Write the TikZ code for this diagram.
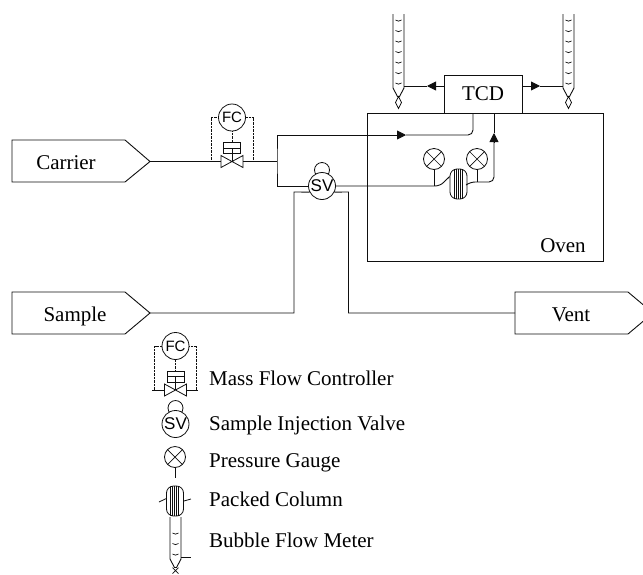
\documentclass[tikz,border=0pt]{standalone}
\usepackage{fontspec}
\setmainfont{Liberation Serif}
\setsansfont{Liberation Sans}
\usetikzlibrary{arrows.meta,positioning,calc,shapes.geometric}
\definecolor{pipecolor}{RGB}{15,15,15}
\tikzset{
  pipe/.style={draw=pipecolor,line width=0.9pt,rounded corners=5pt},
  flowtip/.style={-{Triangle[length=9pt,width=9pt]}},
  stream/.style={draw=pipecolor,line width=0.9pt},
  streamlabel/.style={font=\fontsize{21}{24}\selectfont,inner sep=0pt,text height=14pt,text depth=0pt},
  legendlabel/.style={streamlabel,anchor=west},
  instrument/.style={circle,draw=pipecolor,line width=0.8pt,inner sep=0pt,fill=white,font=\sffamily},
  gauge/.style={instrument,minimum size=21pt,path picture={
      \draw[pipecolor,line width=0.7pt] (path picture bounding box.north west) -- (path picture bounding box.south east)
        (path picture bounding box.north east) -- (path picture bounding box.south west);}},
  columnbody/.style={draw=pipecolor,line width=0.8pt,fill=white,inner sep=0pt,minimum width=17pt,minimum height=30pt,rounded corners=7pt,path picture={
      \foreach \k in {-4.5,-2.5,-0.5,1.5,3.5}
        \draw[pipecolor,line width=0.6pt] ([xshift=\k pt]path picture bounding box.north) -- ([xshift=\k pt]path picture bounding box.south);}},
  pics/flowctl/.style={code={
      \node[instrument,minimum size=27pt,font=\sffamily\fontsize{15}{15}\selectfont] (-fc) at (0,-44) {FC};
      \coordinate (-in) at (-11,0);
      \coordinate (-out) at (11,0);
      \draw[pipecolor,line width=0.8pt] (-in) -- (-11,-6) -- (11,6) -- (-out) -- (11,-6) -- (-11,6) -- cycle;
      \draw[pipecolor,line width=0.8pt] (-8.5,-19) rectangle (8.5,-8) (-8.5,-13.5) -- (8.5,-13.5) (0,-13.5) -- (0,0);
      \draw[pipecolor,densely dotted] (-fc.west) -- (-21,-44) -- (-21,0) (-fc.east) -- (21,-44) -- (21,0) (-fc.south) -- (0,-19);
  }},
  pics/injector/.style={code={
      \node[instrument,minimum size=7.5*2pt] (-loop) at (0,-16) {};
      \node[instrument,minimum size=27pt,font=\sffamily\fontsize{17}{17}\selectfont] (-sv) at (0,0) {SV};
  }},
  pics/bubblemeter/.style 2 args={code={
      \coordinate (-east) at (5.5,0);
      \coordinate (-west) at (-5.5,0);
      \coordinate (-tip) at (0,10.5);
      \draw[pipecolor,line width=0.9pt] (-5.5,-#2) -- (-5.5,2) -- (-1,10.5) -- (1,10.5) -- (5.5,2) -- (5.5,-#2);
      \foreach \k in {1,...,#1}
        \draw[pipecolor,line width=0.7pt] (-3,{-3-(\k-1)*10.5}) .. controls (-1,{-1.5-(\k-1)*10.5}) and (1,{-1.5-(\k-1)*10.5}) .. (3,{-3-(\k-1)*10.5});
  }},
}
\begin{document}
\begin{tikzpicture}[x=1pt,y=-1pt]
  \useasboundingbox (0,0) rectangle (643,574);
  \node[stream,minimum width=236pt,minimum height=148pt,inner sep=0pt] (oven) at (485,187) {};
  \node[stream,fill=white,minimum width=78pt,minimum height=38pt,inner sep=0pt,font=\fontsize{21}{24}\selectfont] (tcd) at (483,94) {TCD};
  \node[streamlabel] (ovenlabel) at (563,245) {Oven};

  \coordinate (carriertip) at (150,161.5);
  \coordinate (sampletip) at (150,313);
  \coordinate (venttip) at (653,313);
  \draw[stream] (12,140) -- (125,140) -- (carriertip) -- (125,182) -- (12,182) -- cycle;
  \draw[stream] (12,292) -- (125,292) -- (sampletip) -- (125,334) -- (12,334) -- cycle;
  \draw[stream] (515,292) -- (628,292) -- (venttip) -- (628,334) -- (515,334) -- cycle;
  \node[streamlabel] (carrier) at (66,162) {Carrier};
  \node[streamlabel] (sample) at (75,314) {Sample};
  \node[streamlabel] (vent) at (571,314) {Vent};

  \pic (mfc) at (232,161.5) {flowctl};
  \pic (valve) at (322,186) {injector};
  \coordinate (split) at (277,161.5);
  \draw[pipe,rounded corners=0pt] (carriertip) -- (mfc-in) (mfc-out) -- (split);
  \draw[pipe,rounded corners=0pt] (valve-sv.west) -- (277,186) -- (split) -- (277,135) -- (398,135);
  \coordinate (arrowa) at (406,135);
  \draw[pipe,flowtip] (398,135) -- (arrowa);
  \coordinate (tcdin) at (473,113);
  \draw[pipe] (arrowa) -- (473,135) -- (tcdin);

  \node[gauge] (gaugea) at (434,159) {};
  \node[gauge] (gaugeb) at (477,159) {};
  \node[columnbody] (packed) at (458.5,184) {};
  \draw[pipe] (valve-sv.east) -- (440,186) -- (packed.140);
  \draw[pipe] (packed.east) -- (470,182) -- (494,182) -- (494,141);
  \coordinate (tcdout) at (494,113);
  \draw[pipe,flowtip] (494,142) -- (494,133);
  \draw[pipe] (494,133) -- (tcdout);
  \draw[pipe] (gaugea.south) -- (434,186);
  \draw[pipe] (gaugeb.south) -- (477,182);

  \pic (meterl) at (398.5,86) {bubblemeter={7}{72}};
  \pic (meterr) at (568.5,86) {bubblemeter={7}{72}};
  \draw[stream,line width=0.7pt] (meterl-tip) -- +(-3,6) -- +(0,12) -- +(3,6) -- cycle;
  \draw[stream,line width=0.7pt] (meterr-tip) -- +(-3,6) -- +(0,12) -- +(3,6) -- cycle;
  \coordinate (tipl) at (427,86);
  \coordinate (tipr) at (540,86);
  \draw[pipe,flowtip] (tcd.north west |- tipl) -- (tipl);
  \draw[pipe] (tipl) -- (meterl-east);
  \draw[pipe,flowtip] (tcd.north east |- tipr) -- (tipr);
  \draw[pipe] (tipr) -- (meterr-west);

  \draw[pipe,rounded corners=0pt] (sampletip) -- (294,313) -- (294,192) -- (valve-sv.206);
  \draw[pipe,rounded corners=0pt] (valve-sv.-26) -- (348.5,192) -- (348.5,313) -- (515,313);

  \pic (legendfc) at (175.5,390) {flowctl};
  \coordinate (legendfcl) at (152,390);
  \coordinate (legendfcr) at (198,390);
  \draw[pipe] (legendfcl) -- (legendfc-in) (legendfc-out) -- (legendfcr);
  \pic (legendsv) at (175.5,424) {injector};
  \node[gauge] (legendgauge) at (175,457) {};
  \coordinate (legendstem) at (175,478);
  \draw[pipe] (legendgauge.south) -- (legendstem);
  \node[columnbody] (legendcol) at (175,501) {};
  \coordinate (legendcoll) at (159,502);
  \coordinate (legendcolr) at (191,499);
  \draw[stream,line width=0.8pt] (legendcoll) -- (legendcol.165) (legendcol.east) -- (legendcolr);
  \pic (legendbm) at (175.5,557) {bubblemeter={3}{40}};
  \draw[stream,line width=0.7pt] ($(legendbm-tip)+(-3,6)$) -- ($(legendbm-tip)+(3,-0)$) ($(legendbm-tip)+(3,6)$) -- ($(legendbm-tip)+(-3,0)$);
  \coordinate (legendbmr) at (191,557);
  \draw[pipe] (legendbm-east) -- (legendbmr);

  \node[legendlabel] (lmfc) at (209,378) {Mass Flow Controller};
  \node[legendlabel] (lsv) at (209,423) {Sample Injection Valve};
  \node[legendlabel] (lgauge) at (209,460) {Pressure Gauge};
  \node[legendlabel] (lcol) at (209,499) {Packed Column};
  \node[legendlabel] (lbm) at (209,540) {Bubble Flow Meter};
\end{tikzpicture}
\end{document}
